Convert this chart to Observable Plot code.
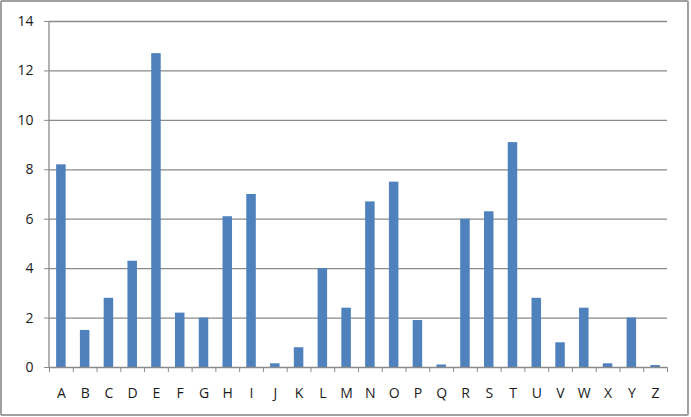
<!DOCTYPE html>
<html>
<head>
<meta charset="utf-8">
<script src="https://cdn.jsdelivr.net/npm/d3@7"></script>
<script src="https://cdn.jsdelivr.net/npm/@observablehq/plot@0.6"></script>
<style>
  html, body { margin: 0; padding: 0; background: #fff; }
  #wrap { position: relative; width: 691px; height: 417px; overflow: hidden; }
  #wrap svg { position: absolute; left: 0; top: 0; }
  #border { position: absolute; left: 0; top: 0; width: 689px; height: 416px; box-sizing: border-box;
            border: 2px solid #a0a0a0; border-radius: 2px; pointer-events: none; }
</style>
</head>
<body>
<div id="wrap"><div id="border"></div></div>
<script>
const letters = ["A","B","C","D","E","F","G","H","I","J","K","L","M","N","O","P","Q","R","S","T","U","V","W","X","Y","Z"];
const freq = [8.2,1.5,2.8,4.3,12.7,2.2,2.0,6.1,7.0,0.15,0.8,4.0,2.4,6.7,7.5,1.9,0.1,6.0,6.3,9.1,2.8,1.0,2.4,0.15,2.0,0.08];
const yTicks = [0,2,4,6,8,10,12,14];

const data = letters.map((l, i) => ({letter: l, value: freq[i]}));

const W = 691, H = 417;
const mLeft = 49, mRight = 24, mTop = 21, mBottom = 50;
const step = (W - mLeft - mRight) / letters.length;
const grid = "#8a8a8a";
const font = "Open Sans, Liberation Sans, sans-serif";

// vertical value-axis line along the left edge of the plot area
function yAxisLine(index, scales, values, dims) {
  const y0 = scales.y(0), y1 = scales.y(14);
  return d3.create("svg:line")
    .attr("x1", dims.marginLeft).attr("x2", dims.marginLeft)
    .attr("y1", y0).attr("y2", y1)
    .attr("stroke", grid).attr("stroke-width", 1.3)
    .node();
}

const chart = Plot.plot({
  width: W,
  height: H,
  marginLeft: mLeft,
  marginRight: mRight,
  marginTop: mTop,
  marginBottom: mBottom,
  style: {fontFamily: font, fontSize: "14px", color: "#1a1a1a", background: "transparent"},
  x: {domain: letters, padding: 0, round: false, label: null},
  y: {domain: [0, 14], label: null},
  marks: [
    Plot.gridY(yTicks.filter(d => d > 0), {stroke: grid, strokeOpacity: 1, strokeWidth: 1.3}),
    Plot.axisY(yTicks, {tickSize: 5, tickPadding: 11, stroke: grid, strokeOpacity: 1, fill: "#1a1a1a", label: null}),
    yAxisLine,
    Plot.barY(data, {x: "letter", y: "value", fill: "#4F81BD", insetLeft: step * 0.3, insetRight: step * 0.3}),
    Plot.ruleY([0], {stroke: grid, strokeWidth: 1.3}),
    Plot.axisX(letters, {tickSize: 5, dx: -step / 2, tickFormat: () => "", stroke: grid, strokeOpacity: 1, label: null}),
    Plot.axisX(["Z"], {tickSize: 5, dx: step / 2, tickFormat: () => "", stroke: grid, strokeOpacity: 1, label: null}),
    Plot.axisX(letters, {tickSize: 0, tickPadding: 21, fill: "#1a1a1a", label: null})
  ]
});
document.getElementById("wrap").insertBefore(chart, document.getElementById("border"));
</script>
</body>
</html>
